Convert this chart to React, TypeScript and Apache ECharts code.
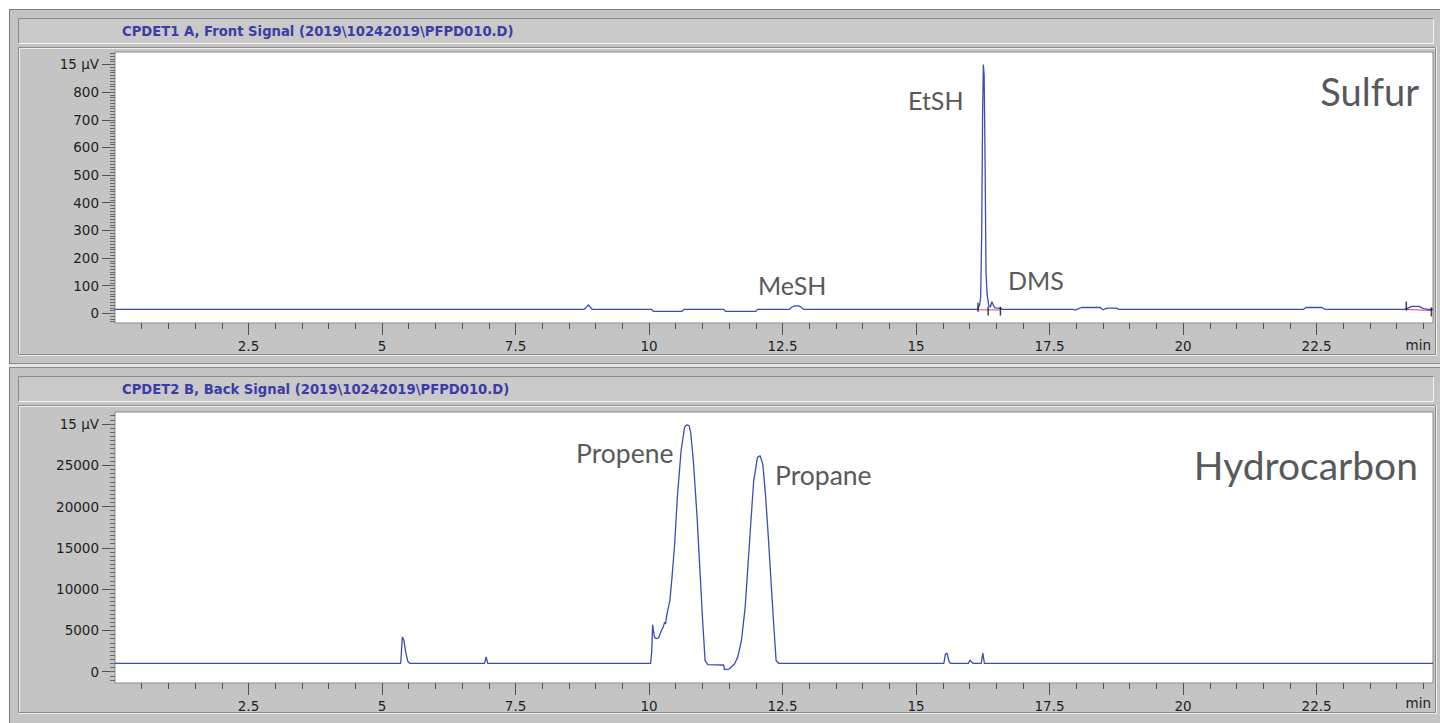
import React, { useEffect, useRef } from 'react';
import * as echarts from 'echarts';

// ---------- axis definitions ----------
const X_MIN = 0;
const X_MAX = 24.68;
const xMajorTicks = [2.5, 5, 7.5, 10, 12.5, 15, 17.5, 20, 22.5];
const xMinorTicks = [0.5, 1, 1.5, 2, 3, 3.5, 4, 4.5, 5.5, 6, 6.5, 7, 8, 8.5, 9, 9.5, 10.5, 11, 11.5, 12, 13, 13.5, 14, 14.5, 15.5, 16, 16.5, 17, 18, 18.5, 19, 19.5, 20.5, 21, 21.5, 22, 23, 23.5, 24, 24.5];

const sulfurYMin = -35;
const sulfurYMax = 945;
const sulfurYTicks = [0, 100, 200, 300, 400, 500, 600, 700, 800, 900];
const sulfurUnitTick = 900;

const hydroYMin = -1370;
const hydroYMax = 31450;
const hydroYTicks = [0, 5000, 10000, 15000, 20000, 25000, 30000];
const hydroUnitTick = 30000;

const unitLabel = '15 µV';
const xUnitLabel = 'min';
const sulfurTitle = 'CPDET1 A, Front Signal (2019\\10242019\\PFPD010.D)';
const hydroTitle = 'CPDET2 B, Back Signal (2019\\10242019\\PFPD010.D)';

// ---------- data (time in min, signal) ----------
const sulfurTrace: [number, number][] = [
  [0, 14], [8.78, 14], [8.83, 22], [8.86, 31], [8.9, 22], [8.94, 14],
  [10.05, 14], [10.08, 7], [10.62, 7], [10.65, 14],
  [11.4, 14], [11.43, 7], [12.0, 7], [12.03, 14],
  [12.62, 14], [12.67, 22], [12.73, 27], [12.8, 27], [12.85, 22], [12.9, 14],
  [16.15, 14], [16.19, 30], [16.21, 60], [16.23, 300], [16.245, 700], [16.26, 900], [16.275, 860],
  [16.29, 600], [16.3, 380], [16.31, 150], [16.33, 70], [16.36, 30], [16.39, 22], [16.42, 42],
  [16.45, 28], [16.48, 20], [16.58, 18], [16.62, 14],
  [17.95, 14], [17.98, 11], [18.01, 14], [18.1, 21], [18.45, 21], [18.5, 13], [18.55, 17],
  [18.6, 19], [18.75, 19], [18.8, 14],
  [22.25, 14], [22.3, 21], [22.6, 21], [22.66, 14],
  [24.15, 14], [24.2, 18], [24.28, 25], [24.42, 25], [24.5, 17], [24.6, 14], [24.68, 14],
];
const sulfurBaseline1: [number, number][] = [[16.16, 13], [16.58, 12]];
const sulfurBaseline2: [number, number][] = [[24.18, 14], [24.65, 10]];
const sulfurEvents: [number, number][] = [[16.16, 22], [16.35, 8], [16.58, 8], [24.18, 26], [24.65, 5]];

const hydroTrace: [number, number][] = [
  [0, 1000], [5.35, 1000], [5.38, 4200], [5.41, 3800], [5.44, 2500], [5.48, 1300], [5.52, 1000],
  [6.92, 1000], [6.95, 1800], [6.98, 1000],
  [10.03, 1000], [10.05, 2400], [10.067, 5690], [10.1, 4200], [10.13, 4000], [10.18, 4100],
  [10.23, 4960], [10.27, 5500], [10.29, 5970], [10.31, 5800], [10.33, 6780], [10.39, 8600],
  [10.43, 11420], [10.48, 15460], [10.53, 21100], [10.6, 26760], [10.665, 29580], [10.7, 29900],
  [10.75, 29800], [10.78, 28980], [10.83, 25550], [10.9, 18690], [10.95, 12630], [11.0, 6580],
  [11.05, 1330], [11.1, 850], [11.4, 810], [11.41, 250], [11.5, 320], [11.6, 930], [11.66, 1740],
  [11.73, 3750], [11.8, 7790], [11.85, 12630], [11.9, 17470], [11.96, 23120], [12.03, 25950],
  [12.08, 26150], [12.13, 25140], [12.18, 21510], [12.23, 16670], [12.28, 11420], [12.33, 6170],
  [12.38, 1330], [12.43, 1000],
  [15.52, 1000], [15.55, 2100], [15.58, 2250], [15.62, 1200], [15.65, 1000],
  [15.98, 1000], [16.01, 1400], [16.05, 1100], [16.08, 1000],
  [16.22, 1000], [16.25, 2250], [16.28, 1000],
  [24.68, 1000],
];

const range = (a: number, b: number, s: number) => {
  const out: number[] = [];
  for (let v = a; v <= b + 1e-9; v += s) out.push(Math.round(v * 1000) / 1000);
  return out;
};
const sulfurYMinor = range(-30, 940, 10);
const hydroYMinor = range(-1000, 31000, 500);

// ---------- styles ----------
const GREY = '#c4c4c4';
const DARK = '#8a8a8a';
const LINE_BLUE = '#3b4cb5';
const AXIS_FONT = 'DejaVu Sans';
const ANNO_FONT = 'Lato';
const ANNO_COLOR = '#58595b';

const grids = [
  { left: 115, top: 52, width: 1318, height: 271 },
  { left: 115, top: 412, width: 1318, height: 271 },
];

function panelChrome(dy: number, title: string): any[] {
  const els: any[] = [];
  els.push({ type: 'rect', z: -5, shape: { x: 18, y: 18 + dy, width: 1416, height: 25 }, style: { fill: '#c9c9c9' } });
  els.push({ type: 'polyline', z: -4, shape: { points: [[18.5, 43 + dy], [18.5, 18.5 + dy], [1433.5, 18.5 + dy]] }, style: { stroke: DARK, fill: null, lineWidth: 1 } });
  els.push({ type: 'polyline', z: -4, shape: { points: [[19, 43.5 + dy], [1433.5, 43.5 + dy], [1433.5, 19 + dy]] }, style: { stroke: '#f4f4f4', fill: null, lineWidth: 1 } });
  els.push({ type: 'polyline', z: -4, shape: { points: [[18.5, 354.5 + dy], [18.5, 47.5 + dy], [1435.5, 47.5 + dy]] }, style: { stroke: DARK, fill: null, lineWidth: 1 } });
  els.push({ type: 'polyline', z: -4, shape: { points: [[19.5, 354 + dy], [19.5, 48.5 + dy], [1435, 48.5 + dy]] }, style: { stroke: '#eeeeee', fill: null, lineWidth: 1 } });
  els.push({ type: 'polyline', z: -4, shape: { points: [[19, 354.5 + dy], [1435.5, 354.5 + dy], [1435.5, 48 + dy]] }, style: { stroke: DARK, fill: null, lineWidth: 1 } });
  els.push({ type: 'polyline', z: -4, shape: { points: [[18, 355.5 + dy], [1436.5, 355.5 + dy], [1436.5, 47 + dy]] }, style: { stroke: '#eeeeee', fill: null, lineWidth: 1 } });
  els.push({
    type: 'text', z: 5,
    style: {
      text: title, x: 122, y: 31 + dy, fill: '#3c3ca6',
      font: `bold 13.2px "${AXIS_FONT}"`, textAlign: 'left', textVerticalAlign: 'middle', align: 'left', verticalAlign: 'middle',
    },
  });
  els.push({
    type: 'text', z: 5,
    style: {
      text: xUnitLabel, x: 1431, y: 345 + dy, fill: '#1e1e1e',
      font: `13.5px "${AXIS_FONT}"`, textAlign: 'right', textVerticalAlign: 'middle', align: 'right', verticalAlign: 'middle',
    },
  });
  return els;
}

function anno(text: string, x: number, y: number, size: number, align: string): any {
  return {
    type: 'text', z: 10,
    style: {
      text, x, y, fill: ANNO_COLOR, font: `${size}px "${ANNO_FONT}"`,
      textAlign: align, textVerticalAlign: 'middle', align, verticalAlign: 'middle',
    },
  };
}

function makeXAxes(gridIndex: number): any[] {
  const base = {
    type: 'value', gridIndex, min: X_MIN, max: X_MAX, position: 'bottom', offset: 0,
    axisLine: { show: false, onZero: false }, splitLine: { show: false },
  };
  return [
    {
      ...base,
      axisTick: { show: true, length: 12, customValues: xMajorTicks, lineStyle: { color: '#505050', width: 1 } },
      axisLabel: {
        show: true, customValues: xMajorTicks, margin: 16, color: '#1e1e1e',
        fontFamily: AXIS_FONT, fontSize: 13.5, formatter: (v: number) => String(v),
      },
    },
    {
      ...base,
      axisTick: { show: true, length: 6, customValues: xMinorTicks, lineStyle: { color: '#505050', width: 1 } },
      axisLabel: { show: false },
    },
  ];
}

function makeYAxes(gridIndex: number, min: number, max: number, ticks: number[], minor: number[], unitTick: number): any[] {
  const base = {
    type: 'value', gridIndex, min, max, position: 'left', offset: 0,
    axisLine: { show: false, onZero: false }, splitLine: { show: false },
  };
  return [
    {
      ...base,
      axisTick: { show: true, length: 13, customValues: ticks, lineStyle: { color: '#505050', width: 1 } },
      axisLabel: {
        show: true, customValues: ticks, margin: 16, color: '#1e1e1e',
        fontFamily: AXIS_FONT, fontSize: 13.5,
        formatter: (v: number) => (v === unitTick ? unitLabel : String(v)),
      },
    },
    {
      ...base,
      axisTick: { show: true, length: 5, customValues: minor, lineStyle: { color: '#6a6a6a', width: 1 } },
      axisLabel: { show: false },
    },
  ];
}

export default function App() {
  const ref = useRef<HTMLDivElement>(null);

  useEffect(() => {
    if (!ref.current) return;
    const chart = echarts.init(ref.current, null, { renderer: 'svg' });

    const graphic: any[] = [
      { type: 'rect', z: -10, shape: { x: 9, y: 9, width: 1431, height: 714 }, style: { fill: GREY } },
      { type: 'line', z: -9, shape: { x1: 9.5, y1: 9, x2: 9.5, y2: 723 }, style: { stroke: '#7a7a7a', lineWidth: 1 } },
      { type: 'line', z: -9, shape: { x1: 9, y1: 9.5, x2: 1440, y2: 9.5 }, style: { stroke: '#7a7a7a', lineWidth: 1 } },
      { type: 'line', z: -9, shape: { x1: 9, y1: 363.5, x2: 1440, y2: 363.5 }, style: { stroke: '#8a8a8a', lineWidth: 1 } },
      { type: 'rect', z: -9, shape: { x: 9, y: 364, width: 1431, height: 3 }, style: { fill: '#e6e6e6' } },
      { type: 'line', z: -9, shape: { x1: 9, y1: 367.5, x2: 1440, y2: 367.5 }, style: { stroke: '#8a8a8a', lineWidth: 1 } },
      ...panelChrome(0, sulfurTitle),
      ...panelChrome(358, hydroTitle),
      anno('Sulfur', 1419, 91, 38, 'right'),
      anno('Hydrocarbon', 1418, 465, 39, 'right'),
      anno('EtSH', 908, 100, 25, 'left'),
      anno('MeSH', 758, 285, 25, 'left'),
      anno('DMS', 1008, 280, 25, 'left'),
      anno('Propene', 576, 453, 26.5, 'left'),
      anno('Propane', 775, 475, 26.5, 'left'),
    ];

    const option: any = {
      animation: false,
      backgroundColor: '#ffffff',
      grid: grids.map((g) => ({
        ...g, show: true, backgroundColor: '#ffffff', borderColor: '#8a8a8a', borderWidth: 1, containLabel: false,
      })),
      xAxis: [...makeXAxes(0), ...makeXAxes(1)],
      yAxis: [
        ...makeYAxes(0, sulfurYMin, sulfurYMax, sulfurYTicks, sulfurYMinor, sulfurUnitTick),
        ...makeYAxes(1, hydroYMin, hydroYMax, hydroYTicks, hydroYMinor, hydroUnitTick),
      ],
      graphic,
      series: [
        {
          name: 'Sulfur baseline 1', type: 'line', xAxisIndex: 0, yAxisIndex: 0, data: sulfurBaseline1,
          showSymbol: false, symbol: 'none', lineStyle: { color: '#e0408a', width: 1 }, z: 3,
        },
        {
          name: 'Sulfur baseline 2', type: 'line', xAxisIndex: 0, yAxisIndex: 0, data: sulfurBaseline2,
          showSymbol: false, symbol: 'none', lineStyle: { color: '#e0408a', width: 1 }, z: 3,
        },
        {
          name: 'Sulfur', type: 'line', xAxisIndex: 0, yAxisIndex: 0, data: sulfurTrace,
          showSymbol: false, symbol: 'none',
          lineStyle: { color: LINE_BLUE, width: 1.3 }, z: 4,
        },
        {
          name: 'Events', type: 'scatter', xAxisIndex: 0, yAxisIndex: 0, data: sulfurEvents,
          symbol: 'rect', symbolSize: [1.5, 9], itemStyle: { color: '#111111' }, z: 5,
        },
        {
          name: 'Hydrocarbon', type: 'line', xAxisIndex: 2, yAxisIndex: 2, data: hydroTrace,
          showSymbol: false, symbol: 'none',
          lineStyle: { color: LINE_BLUE, width: 1.3 }, z: 4,
        },
      ],
    };

    chart.setOption(option);
    return () => chart.dispose();
  }, []);

  return (
    <div
      ref={ref}
      style={{ position: 'absolute', left: 0, top: 0, width: 1440, height: 723, background: '#ffffff' }}
    />
  );
}
